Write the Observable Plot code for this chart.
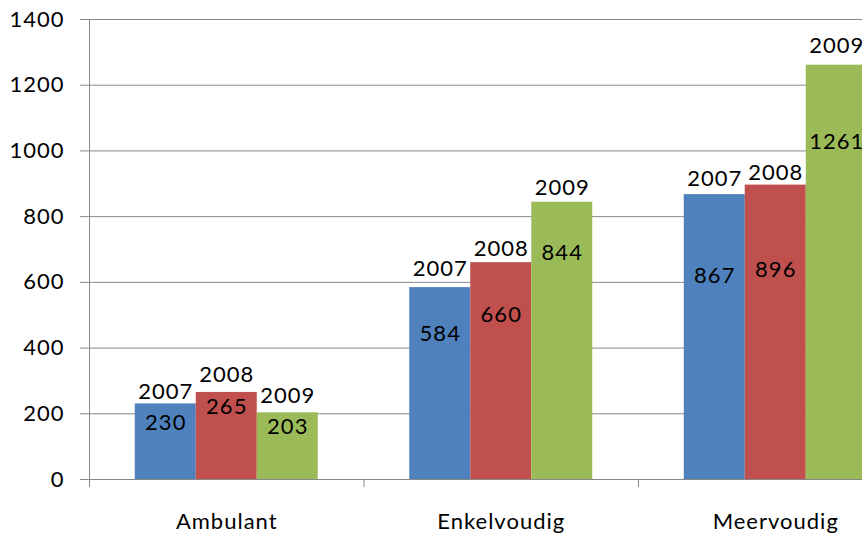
<!DOCTYPE html>
<html>
<head>
<meta charset="utf-8">
<script src="https://cdn.jsdelivr.net/npm/d3@7"></script>
<script src="https://cdn.jsdelivr.net/npm/@observablehq/plot@0.6"></script>
<style>
  html, body { margin: 0; padding: 0; background: #fff; overflow: hidden; width: 862px; height: 538px; }
  #chart { width: 930px; }
  #chart svg { display: block; max-width: none !important; width: 930px; height: 538px; letter-spacing: 1px; }
</style>
</head>
<body>
<div id="chart"></div>
<script>
// ---- data ----
const categories = ["Ambulant", "Enkelvoudig", "Meervoudig"];
const years = ["2007", "2008", "2009"];
const values2007 = [230, 584, 867];
const values2008 = [265, 660, 896];
const values2009 = [203, 844, 1261];
const yTicks = [0, 200, 400, 600, 800, 1000, 1200, 1400];

// ---- styles ----
const colors = ["#4F81BD", "#C0504D", "#9BBB59"];
const gridColor = "#888888";
const textColor = "#000000";
const font = "Lato, 'Open Sans', sans-serif";
const fontSize = 22;
// label nudges in pixels [category][year]
const yearLabelDy = [[-12, -17, -17], [-19, -14, -14], [-16, -12, -19]];
const valueLabelDy = [[19, 15, 14], [46, 52, 51], [81, 85, 77]];

// ---- layout within each category slot (slot width = 1) ----
const barW = 2 / 9;
const groupOffset = (1 - years.length * barW) / 2;

const series = [values2007, values2008, values2009];
const rows = [];
categories.forEach((c, ci) => {
  years.forEach((yr, yi) => {
    const x1 = ci + groupOffset + yi * barW;
    rows.push({cat: c, ci, year: yr, yi, value: series[yi][ci], x1, x2: x1 + barW, xm: x1 + barW / 2});
  });
});

const labelMarks = rows.flatMap(r => [
  Plot.text([r], {x: "xm", y: "value", text: "year", dy: yearLabelDy[r.ci][r.yi],
    fill: textColor, fontSize, fontFamily: font}),
  Plot.text([r], {x: "xm", y: "value", text: d => String(d.value), dy: valueLabelDy[r.ci][r.yi],
    fill: textColor, fontSize, fontFamily: font})
]);

const chart = Plot.plot({
  width: 930,
  height: 538,
  marginLeft: 89,
  marginRight: 17.5,
  marginTop: 19,
  marginBottom: 59,
  style: {fontFamily: font, fontSize: fontSize + "px", color: textColor, background: "#fff", maxWidth: "none"},
  x: {domain: [0, categories.length], axis: null},
  y: {domain: [0, 1400], axis: null},
  color: {domain: years, range: colors},
  marks: [
    Plot.gridY(yTicks, {stroke: gridColor, strokeOpacity: 1, strokeWidth: 1}),
    Plot.axisY(yTicks, {tickSize: 9, tickPadding: 16, stroke: gridColor, fill: textColor,
      fontSize, fontFamily: font, label: null, tickFormat: d => String(d)}),
    Plot.ruleX([0], {y1: 0, y2: 1400, stroke: gridColor}),
    Plot.axisX([0, 1, 2, 3], {tickSize: 8, stroke: gridColor, tickFormat: () => "", label: null}),
    Plot.axisX([0.5, 1.5, 2.5], {tickSize: 0, tickPadding: 34, fill: textColor, fontSize, fontFamily: font,
      tickFormat: d => categories[Math.floor(d)], label: null}),
    Plot.rectY(rows, {x1: "x1", x2: "x2", y: "value", fill: "year"}),
    ...labelMarks
  ]
});

document.getElementById("chart").appendChild(chart);
</script>
</body>
</html>
